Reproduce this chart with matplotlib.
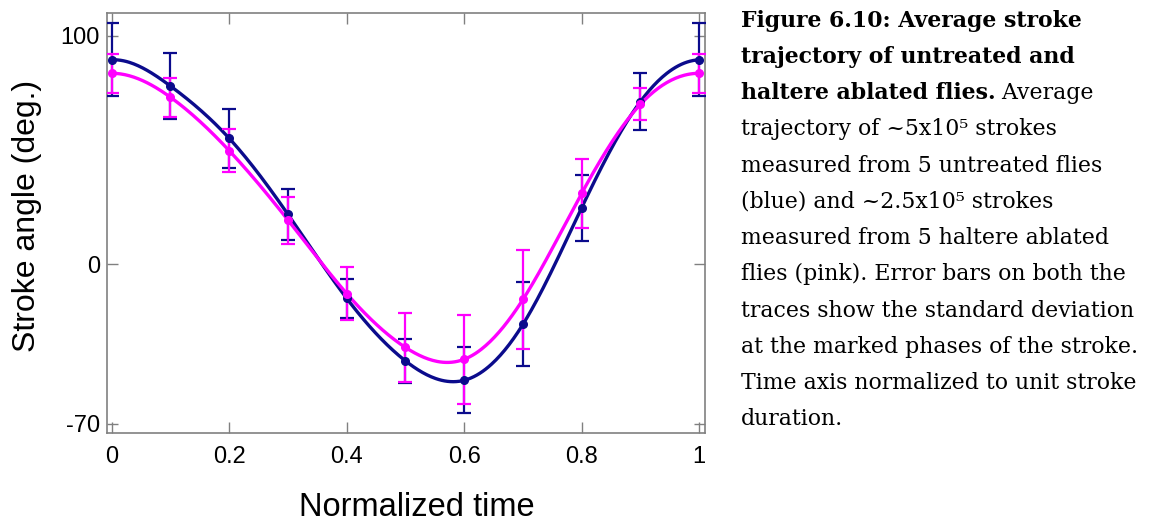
import numpy as np
import matplotlib
matplotlib.use('Agg')
import matplotlib.pyplot as plt

# phase of the stroke (normalized time)
phase = [0.0, 0.1, 0.2, 0.3, 0.4, 0.5, 0.6, 0.7, 0.8, 0.9, 1.0]

# untreated flies (blue)
untreated_mean = [89.5, 78.0, 55.1, 21.8, -15.0, -42.4, -50.9, -26.4, 24.7, 71.2, 89.5]
untreated_sd = [16.0, 14.5, 13.0, 11.3, 8.6, 9.8, 14.4, 18.4, 14.5, 12.4, 16.0]

# haltere ablated flies (pink)
ablated_mean = [83.6, 73.1, 49.7, 19.3, -12.9, -36.5, -41.7, -15.5, 31.0, 70.0, 83.6]
ablated_sd = [8.5, 8.6, 9.4, 10.3, 11.8, 15.2, 19.4, 21.6, 15.0, 7.0, 8.5]

xticks = [0, 0.2, 0.4, 0.6, 0.8, 1]
xticklabels = ['0', '0.2', '0.4', '0.6', '0.8', '1']
yticks = [100, 0, -70]

caption_bold = ['Figure 6.10: Average stroke',
                'trajectory of untreated and',
                'haltere ablated flies.']
caption_rest = [' Average',
                'trajectory of ~5x10\u2075 strokes',
                'measured from 5 untreated flies',
                '(blue) and ~2.5x10\u2075 strokes',
                'measured from 5 haltere ablated',
                'flies (pink). Error bars on both the',
                'traces show the standard deviation',
                'at the marked phases of the stroke.',
                'Time axis normalized to unit stroke',
                'duration.']


def periodic_spline(x, y, n=400):
    # smooth closed curve through the points (first point == last point)
    x = np.asarray(x, float)
    y = np.asarray(y, float)
    h = x[1] - x[0]
    m = len(x) - 1
    yy = y[:m]
    A = np.zeros((m, m))
    rhs = np.zeros(m)
    for i in range(m):
        A[i, i] = 4
        A[i, (i - 1) % m] = 1
        A[i, (i + 1) % m] = 1
        rhs[i] = 6 / h**2 * (yy[(i - 1) % m] - 2 * yy[i] + yy[(i + 1) % m])
    M = np.linalg.solve(A, rhs)
    M = np.append(M, M[0])
    xs = np.linspace(x[0], x[-1], n)
    idx = np.clip(((xs - x[0]) // h).astype(int), 0, m - 1)
    t0 = x[idx]
    t1 = x[idx + 1]
    a = t1 - xs
    b = xs - t0
    ys = (M[idx] * a**3 + M[idx + 1] * b**3) / (6 * h) \
        + (y[idx] / h - M[idx] * h / 6) * a + (y[idx + 1] / h - M[idx + 1] * h / 6) * b
    return xs, ys


plt.rcParams['font.family'] = ['Liberation Sans', 'DejaVu Sans']
plt.rcParams['axes.unicode_minus'] = False

blue = '#0b0b8c'
pink = '#ff00ff'

fig = plt.figure(figsize=(11.49, 5.25), dpi=100)
ax = fig.add_axes([0.0929, 0.1752, 0.5207, 0.8])

for mean, sd, col in [(untreated_mean, untreated_sd, blue), (ablated_mean, ablated_sd, pink)]:
    xs, ys = periodic_spline(phase, mean)
    ax.plot(xs, ys, color=col, lw=2.4, zorder=3)
    ax.errorbar(phase, mean, yerr=sd, fmt='o', color=col, ms=5.5, elinewidth=1.6,
                capsize=5, capthick=1.6, zorder=3)

ax.set_xlim(-0.0085, 1.01)
ax.set_ylim(-74, 110)
ax.set_xticks(xticks, xticklabels)
ax.set_yticks(yticks)
ax.tick_params(direction='in', length=8, width=1, color='#808080', top=True, right=True,
               labelsize=17)
ax.tick_params(axis='x', pad=9)
ax.tick_params(axis='y', pad=5)
for s in ax.spines.values():
    s.set_color('#808080')
    s.set_linewidth(1.2)

fig.text(0.0235, 0.588, 'Stroke angle (deg.)', rotation=90, fontsize=23,
         ha='center', va='center')
fig.text(0.3627, 0.003, 'Normalized time', fontsize=23.5, ha='center', va='bottom')

# caption on the right
serif = ['DejaVu Serif']
x0 = 0.6447
top = 1 - 26.7 / 525
step = 36.25 / 525
fs = 15.8
last = None
for i, line in enumerate(caption_bold):
    last = fig.text(x0, top - i * step, line, fontsize=fs, fontweight='bold',
                    family=serif, va='baseline')
ax.annotate(caption_rest[0], xy=(1, 0), xycoords=last, fontsize=fs,
            family=serif, va='bottom', ha='left', annotation_clip=False)
for j, line in enumerate(caption_rest[1:]):
    fig.text(x0, top - (j + 3) * step, line, fontsize=fs, family=serif, va='baseline')

fig.savefig('out.png', dpi=100)
